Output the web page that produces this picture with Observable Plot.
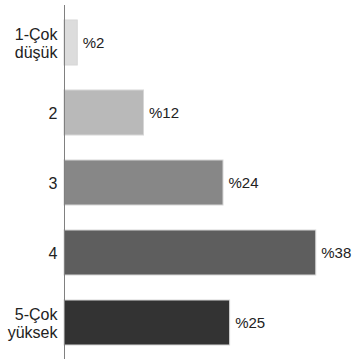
<!DOCTYPE html>
<html>
<head>
<meta charset="utf-8">
<script src="https://cdn.jsdelivr.net/npm/d3@7"></script>
<script src="https://cdn.jsdelivr.net/npm/@observablehq/plot@0.6"></script>
<style>
  html, body { margin: 0; padding: 0; background: #fff; }
  #chart svg { display: block; }
</style>
</head>
<body>
<div id="chart"></div>
<script>
// Response levels, share of answers (%) and bar shades
const categories = ["1-Çok\ndüşük", "2", "3", "4", "5-Çok\nyüksek"];
const shares = [2, 12, 24, 38, 25];
const shades = ["#dcdcdc", "#b9b9b9", "#878787", "#5e5e5e", "#333333"];

const data = categories.map((c, i) => ({category: c, share: shares[i], shade: shades[i]}));

const chart = Plot.plot({
  width: 354,
  height: 361,
  marginTop: 5,
  marginBottom: 2,
  marginLeft: 64,
  marginRight: 25,
  style: {fontFamily: "'Liberation Sans', Arial, sans-serif", background: "#fff"},
  x: {domain: [0, 40], axis: null},
  y: {domain: categories, paddingInner: 0.36, paddingOuter: 0.18, label: null},
  marks: [
    Plot.barX(data, {
      y: "category",
      x: "share",
      fill: "shade",
      stroke: "#d6d6d6",
      strokeWidth: 1
    }),
    Plot.text(data, {
      y: "category",
      x: "share",
      text: d => "%" + d.share,
      textAnchor: "start",
      dx: 5,
      fontSize: 15,
      fill: "#222"
    }),
    Plot.axisY({
      tickSize: 0,
      tickPadding: 7,
      fontSize: 16,
      lineHeight: 1.15,
      fill: "#222"
    }),
    Plot.ruleX([0], {stroke: "#808080", strokeWidth: 1})
  ]
});

document.getElementById("chart").appendChild(chart);
</script>
</body>
</html>
